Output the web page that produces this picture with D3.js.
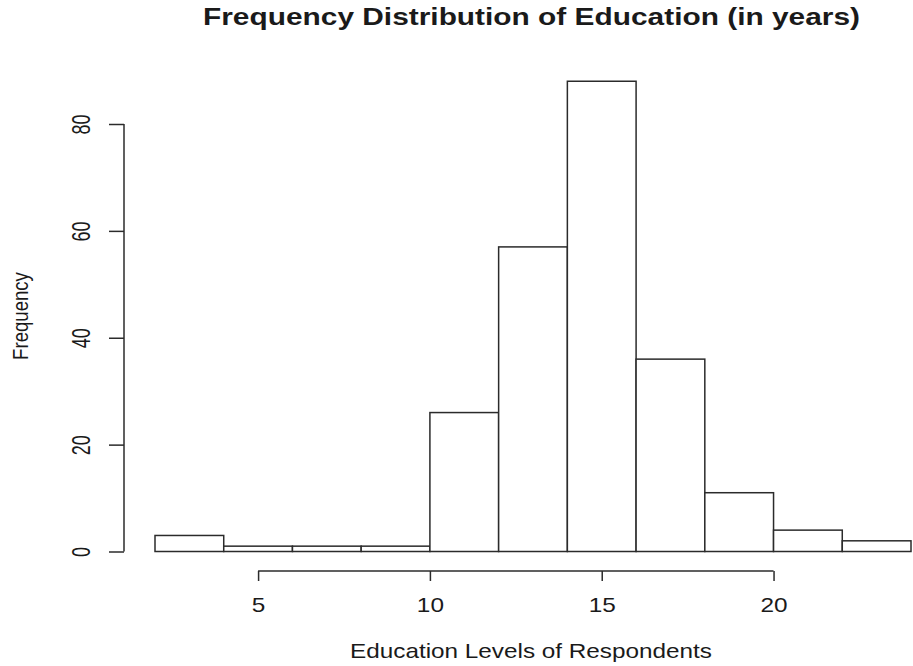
<!DOCTYPE html>
<html>
<head>
<meta charset="utf-8">
<script src="https://cdn.jsdelivr.net/npm/d3@7"></script>
<style>
  html, body { margin: 0; padding: 0; background: #fff; }
  svg text { font-family: "Liberation Sans", Arial, sans-serif; fill: #1a1a1a; }
</style>
</head>
<body>
<svg id="chart" width="913" height="666"></svg>
<script>
// ---- data ----
const binStarts = [2, 4, 6, 8, 10, 12, 14, 16, 18, 20, 22];
const binWidth = 2;
const counts = [3, 1, 1, 1, 26, 57, 88, 36, 11, 4, 2];
const xTicks = [5, 10, 15, 20];
const yTicks = [0, 20, 40, 60, 80];
const titleText = "Frequency Distribution of Education (in years)";
const xLabelText = "Education Levels of Respondents";
const yLabelText = "Frequency";

// ---- layout ----
const svg = d3.select("#chart");
const x = d3.scaleLinear().domain([2, 24]).range([155, 911]);
const y = d3.scaleLinear().domain([0, 80]).range([551.5, 124]);
const stroke = "#2b2b2b";

// bars
svg.append("g").selectAll("rect")
  .data(binStarts.map((b, i) => ({ x0: b, x1: b + binWidth, n: counts[i] })))
  .join("rect")
  .attr("x", d => x(d.x0))
  .attr("y", d => y(d.n))
  .attr("width", d => x(d.x1) - x(d.x0))
  .attr("height", d => y(0) - y(d.n))
  .attr("fill", "#fff")
  .attr("stroke", stroke)
  .attr("stroke-width", 1.5);

// x axis
const xAxis = svg.append("g")
  .attr("transform", "translate(0,571)")
  .call(d3.axisBottom(x).tickValues(xTicks).tickSize(10).tickSizeOuter(0).tickFormat(d3.format("d")));
xAxis.select(".domain").attr("d", `M${x(xTicks[0])},0H${x(xTicks[xTicks.length - 1])}`)
  .attr("stroke", stroke).attr("stroke-width", 1.5);
xAxis.selectAll(".tick line").attr("stroke", stroke).attr("stroke-width", 1.5);
xAxis.selectAll(".tick text")
  .attr("y", 41).attr("dy", null)
  .attr("transform", "scale(1.16,1)")
  .style("font-size", "21px")
  .style("font-family", "'Liberation Sans', Arial, sans-serif")
  .attr("fill", "#1a1a1a");

// y axis
const yAxis = svg.append("g")
  .attr("transform", "translate(124,0)")
  .call(d3.axisLeft(y).tickValues(yTicks).tickSize(15).tickSizeOuter(0).tickFormat(d3.format("d")));
yAxis.select(".domain").attr("d", `M0,${y(yTicks[0])}V${y(yTicks[yTicks.length - 1])}`)
  .attr("stroke", stroke).attr("stroke-width", 1.5);
yAxis.selectAll(".tick line").attr("stroke", stroke).attr("stroke-width", 1.5);
yAxis.selectAll(".tick text")
  .attr("x", null).attr("dy", null)
  .attr("text-anchor", "middle")
  .attr("transform", "translate(-34,0) scale(1.4,1) rotate(-90)")
  .style("font-size", "18px")
  .style("font-family", "'Liberation Sans', Arial, sans-serif")
  .attr("fill", "#1a1a1a");

// title
svg.append("text")
  .attr("x", 531.5).attr("y", 25)
  .attr("text-anchor", "middle")
  .attr("textLength", 657).attr("lengthAdjust", "spacingAndGlyphs")
  .style("font-size", "23px").style("font-weight", "bold")
  .attr("fill", "#000")
  .text(titleText);

// x label
svg.append("text")
  .attr("x", 531).attr("y", 658)
  .attr("text-anchor", "middle")
  .attr("textLength", 362).attr("lengthAdjust", "spacingAndGlyphs")
  .style("font-size", "21px")
  .text(xLabelText);

// y label
svg.append("text")
  .attr("transform", "translate(28,316) scale(1.16,1) rotate(-90)")
  .attr("text-anchor", "middle")
  .style("font-size", "18.6px")
  .text(yLabelText);
</script>
</body>
</html>
